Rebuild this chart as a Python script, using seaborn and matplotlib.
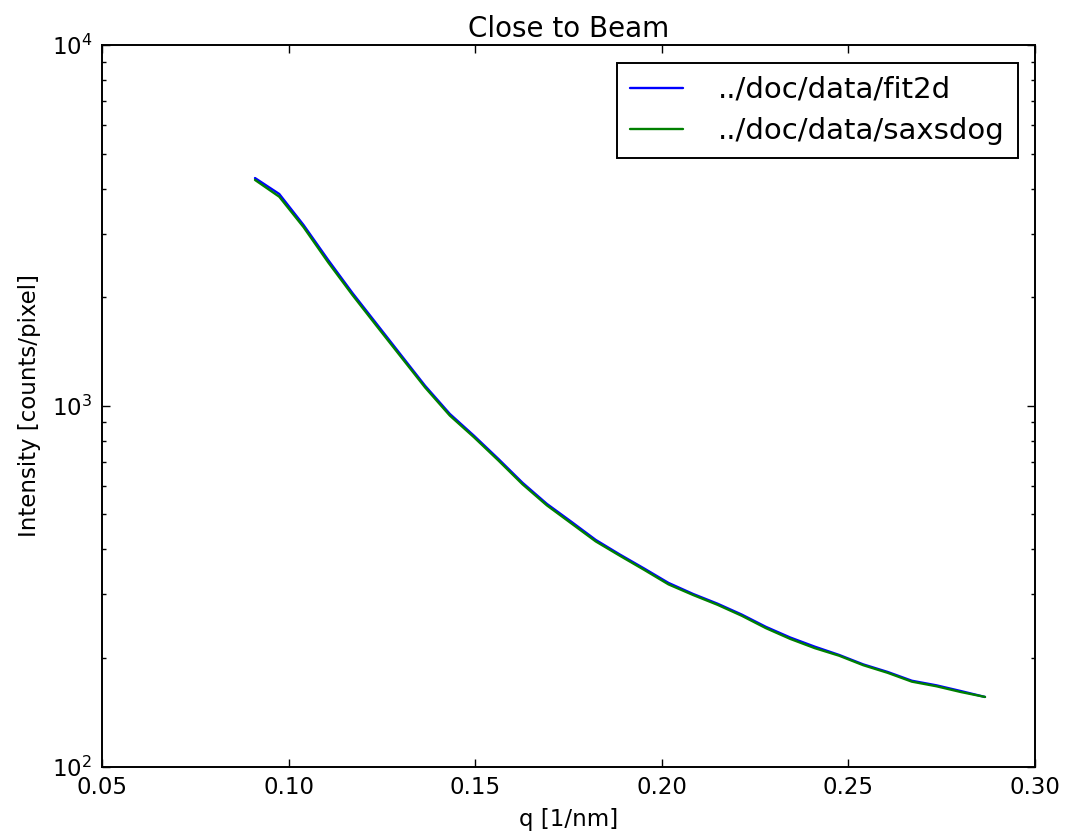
import numpy as np
import pandas as pd
import seaborn as sns
import matplotlib.pyplot as plt
from matplotlib.ticker import FormatStrFormatter, LogLocator

# q values [1/nm]
q = [0.0910, 0.0975, 0.1040, 0.1106, 0.1171, 0.1236, 0.1301, 0.1366, 0.1432, 0.1497,
     0.1562, 0.1627, 0.1692, 0.1758, 0.1823, 0.1888, 0.1953, 0.2018, 0.2084, 0.2149,
     0.2214, 0.2279, 0.2344, 0.2410, 0.2475, 0.2540, 0.2605, 0.2670, 0.2736, 0.2801,
     0.2866]

# intensity
fit2d = [4281, 3867, 3173, 2538, 2056, 1687, 1384, 1136, 950, 826,
         713, 612, 535, 477, 425, 387, 354, 323, 301, 283,
         264, 244, 228, 215, 204, 192, 183, 173, 168, 162,
         156]
saxsdog = [4230, 3800, 3130, 2500, 2030, 1665, 1368, 1124, 940, 818,
           706, 606, 530, 472, 421, 384, 351, 320, 299, 281,
           262, 242, 226, 213, 203, 191, 182, 172, 167, 161,
           156]

labels = ["../doc/data/fit2d", "../doc/data/saxsdog"]
colors = ["#0000ff", "#008000"]

df = pd.DataFrame({
    "q": q * 2,
    "I": fit2d + saxsdog,
    "src": [labels[0]] * len(q) + [labels[1]] * len(q),
})

sns.set_style("ticks")
plt.rcParams["font.family"] = ["DejaVu Sans"]
plt.rcParams["text.color"] = "black"
plt.rcParams["axes.labelcolor"] = "black"
plt.rcParams["xtick.color"] = "black"
plt.rcParams["ytick.color"] = "black"

fig = plt.figure(figsize=(10.69, 8.36), dpi=100)
ax = fig.add_axes([0.0954, 0.083, 0.8728, 0.863])

sns.lineplot(data=df, x="q", y="I", hue="src", palette=colors,
             linewidth=1.7, ax=ax, sort=False)

ax.set_yscale("log")
ax.set_xlim(0.05, 0.30)
ax.set_ylim(100, 10000)
ax.xaxis.set_major_formatter(FormatStrFormatter("%.2f"))
ax.yaxis.set_major_locator(LogLocator(base=10, numticks=10))
ax.yaxis.set_minor_locator(LogLocator(base=10, subs=np.arange(2, 10), numticks=20))

ax.tick_params(which="both", direction="in", top=True, right=True,
               labelsize=16.5, color="black", width=1)
ax.tick_params(which="major", length=6, pad=7)
ax.tick_params(which="minor", length=3)
ax.tick_params(axis="x", which="minor", bottom=False, top=False)

for s in ax.spines.values():
    s.set_linewidth(1.4)
    s.set_color("black")

ax.set_title("Close to Beam", fontsize=20, pad=6, color="black")
ax.set_xlabel("q [1/nm]", fontsize=16.5, labelpad=6)
ax.set_ylabel("Intensity [counts/pixel]", fontsize=16.5, labelpad=8)

leg = ax.legend(loc="upper right", fontsize=21, fancybox=False, frameon=True,
                edgecolor="black", handlelength=1.8, handletextpad=1.2,
                borderpad=0.45, labelspacing=0.45, borderaxespad=0.6)
leg.get_frame().set_linewidth(1.4)
leg.get_frame().set_alpha(1)
for t in leg.get_texts():
    t.set_color("black")

fig.savefig("out.png", dpi=100, facecolor="white")
